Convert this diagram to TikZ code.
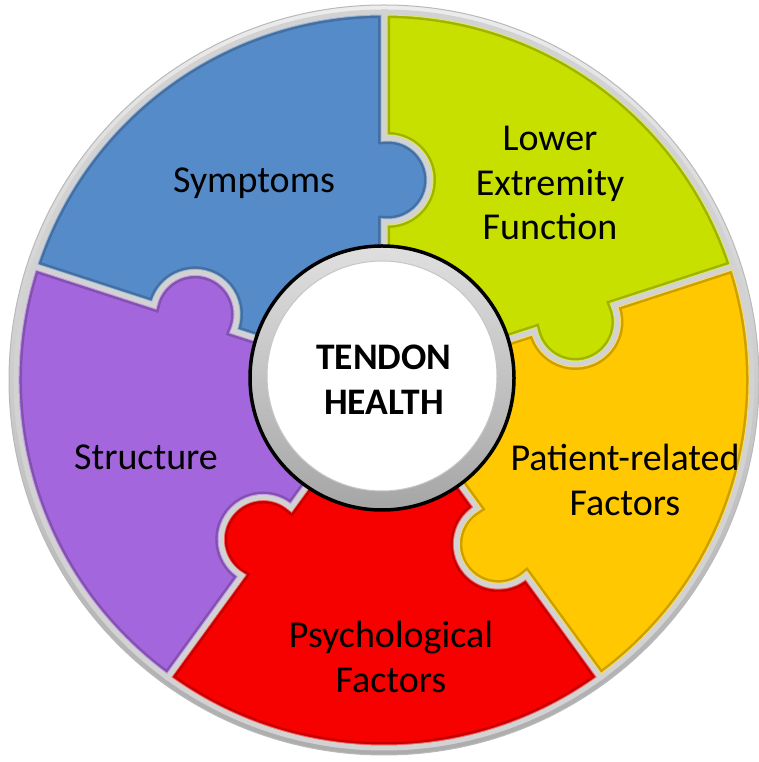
\documentclass[tikz,border=0pt]{standalone}
\usepackage{fontspec}
\setmainfont{Carlito}
\definecolor{pieceblue}{HTML}{568BC9}
\definecolor{piecegreen}{HTML}{C8E000}
\definecolor{pieceyellow}{HTML}{FFC800}
\definecolor{piecered}{HTML}{F70000}
\definecolor{piecepurple}{HTML}{A466DC}
\definecolor{rimgray}{HTML}{D2D2D2}
\tikzset{
  piecelabel/.style={font=\fontsize{38}{44.5}\selectfont,align=center,inner sep=0pt},
  hublabel/.style={font=\fontsize{37.5}{45}\selectfont\bfseries,align=center,inner sep=0pt},
  piecepath/.style={insert path={(0:100) -- (0:158.2)
    arc[start angle=174.53,end angle=365.47,radius=42] -- (0:368)
    arc[start angle=0,end angle=72,radius=368] -- (72:241.8)
    arc[start angle=437.47,end angle=246.53,radius=42] -- (72:100)
    arc[start angle=72,end angle=0,radius=100] -- cycle}}
}
\begin{document}
\begin{tikzpicture}[x=1pt,y=1pt]
  \useasboundingbox (0,0) rectangle (759,762);
  \shade[top color=gray!15,bottom color=gray!65] (384,382) circle[radius=375];
  \draw[gray!55,line width=1] (384,382) circle[radius=375];
  \foreach \ang/\col in {90/pieceblue,18/piecegreen,-54/pieceyellow,-126/piecered,-198/piecepurple}{
    \begin{scope}[shift={(384,382)},rotate=\ang]
      \begin{scope}
        \clip[piecepath];
        \fill[\col,piecepath];
        \draw[\col!80!black,line width=12,piecepath];
        \draw[\col!65!white,line width=7,piecepath];
      \end{scope}
      \draw[rimgray,line width=5,piecepath];
    \end{scope}
  }
  \shadedraw[top color=gray!25,bottom color=gray!70,draw=black,line width=3.5]
    (382,384) circle[radius=132];
  \fill[white] (382,386) circle[radius=115];
  \draw[gray!45,line width=1] (382,386) circle[radius=115];
  \node[hublabel] (hub) at (384,382) {TENDON\\HEALTH};
  \node[piecelabel] (symptoms) at (254,579) {Symptoms};
  \node[piecelabel] (lowerext) at (550,579) {Lower\\Extremity\\Function};
  \node[piecelabel] (patient) at (625,282) {Patient-related\\Factors};
  \node[piecelabel] (psycho) at (391,105) {Psychological\\Factors};
  \node[piecelabel] (structure) at (146,305) {Structure};
\end{tikzpicture}
\end{document}
